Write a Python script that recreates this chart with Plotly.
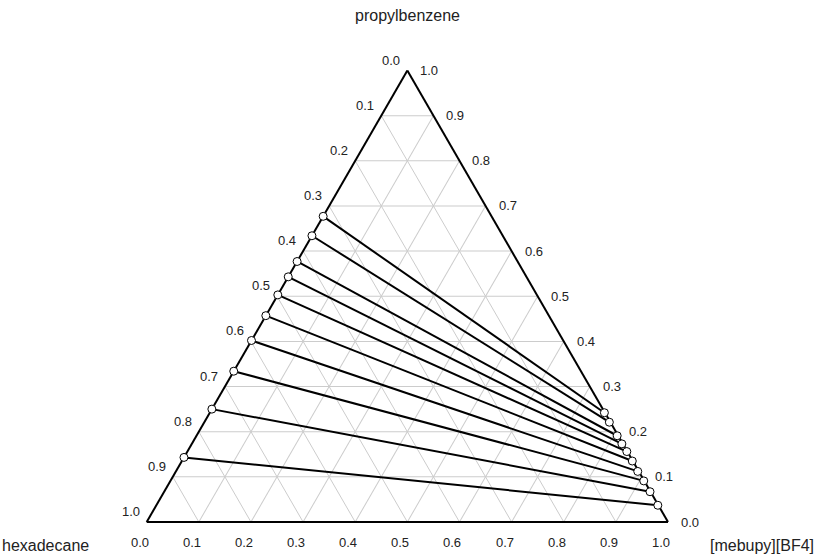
import math
import plotly.graph_objects as go

# Component names (vertex order: top, bottom-left, bottom-right)
components = ["propylbenzene", "hexadecane", "[mebupy][BF4]"]

# Tie-line end points, mole fractions
# hexadecane-rich phase
hc_propylbenzene = [0.677, 0.634, 0.577, 0.543, 0.503, 0.457, 0.402, 0.334, 0.250, 0.143]
hc_hexadecane = [0.323, 0.366, 0.423, 0.457, 0.497, 0.543, 0.598, 0.666, 0.750, 0.857]
hc_il = [0.000, 0.000, 0.000, 0.000, 0.000, 0.000, 0.000, 0.000, 0.000, 0.000]
# ionic-liquid-rich phase
il_propylbenzene = [0.242, 0.221, 0.191, 0.173, 0.156, 0.135, 0.112, 0.091, 0.067, 0.037]
il_hexadecane = [0.001, 0.002, 0.002, 0.002, 0.001, 0.001, 0.002, 0.001, 0.001, 0.001]
il_il = [0.757, 0.777, 0.807, 0.825, 0.843, 0.864, 0.886, 0.908, 0.932, 0.962]

tick_values = [0.0, 0.1, 0.2, 0.3, 0.4, 0.5, 0.6, 0.7, 0.8, 0.9, 1.0]

W, H = 820, 560
X0, X1 = 146.7, 668.0      # triangle base, px
Y_BASE, Y_TOP = 522.0, 70.5
SIDE = X1 - X0
FONT = "Liberation Sans, Arial, sans-serif"

fig = go.Figure()

# tie lines
for i in range(len(hc_propylbenzene)):
    fig.add_trace(go.Scatterternary(
        a=[hc_propylbenzene[i], il_propylbenzene[i]],
        b=[hc_hexadecane[i], il_hexadecane[i]],
        c=[hc_il[i], il_il[i]],
        mode="lines+markers",
        line=dict(color="black", width=2),
        marker=dict(size=8, color="white", line=dict(color="black", width=1)),
        showlegend=False, hoverinfo="skip", cliponaxis=False,
    ))


def to_paper(a, b, c, dx=0.0, dy=0.0):
    """Ternary point -> paper coords of the ternary subplot, plus a px offset."""
    s = a + b + c
    a, c = a / s, c / s
    px = X0 + SIDE * (c + a / 2) + dx
    py = Y_BASE - SIDE * math.sqrt(3) / 2 * a + dy
    return px / W, 1 - py / H


annotations = []


def add_ticks(points, dx, dy):
    for (a, b, c, label) in points:
        x, y = to_paper(a, b, c, dx, dy)
        annotations.append(dict(
            text=label, x=x, y=y, xref="paper", yref="paper", showarrow=False,
            xanchor="center", yanchor="middle",
            font=dict(family=FONT, size=13, color="#222222"),
        ))


# left edge: hexadecane fraction
add_ticks([(1 - v, v, 0.0, f"{v:.1f}") for v in tick_values], -16, -10.5)
# right edge: propylbenzene fraction
add_ticks([(v, 0.0, 1 - v, f"{v:.1f}") for v in tick_values], 22, 0)
# bottom edge: [mebupy][BF4] fraction
add_ticks([(0.0, 1 - v, v, f"{v:.1f}") for v in tick_values], -7, 20)

# vertex titles
for name, (x, y) in zip(components, [(407.5, 15), (45, 545), (762, 545)]):
    annotations.append(dict(
        text=name, x=x / W, y=1 - y / H, xref="paper", yref="paper",
        showarrow=False, xanchor="center", yanchor="middle",
        font=dict(family=FONT, size=16, color="#222222"),
    ))

axis_style = dict(
    showgrid=True, gridcolor="#cccccc", gridwidth=1,
    showline=True, linecolor="black", linewidth=2,
    showticklabels=False, ticks="", tick0=0, dtick=0.1,
    layer="below traces", min=0, title=dict(text=""),
)

fig.update_layout(
    width=W, height=H,
    margin=dict(l=0, r=0, t=0, b=0),
    paper_bgcolor="white",
    ternary=dict(
        sum=1,
        bgcolor="white",
        domain=dict(x=[X0 / W, X1 / W], y=[1 - Y_BASE / H, 1 - Y_TOP / H]),
        aaxis=axis_style, baxis=axis_style, caxis=axis_style,
    ),
    annotations=annotations,
)

fig.write_html("out.html")
